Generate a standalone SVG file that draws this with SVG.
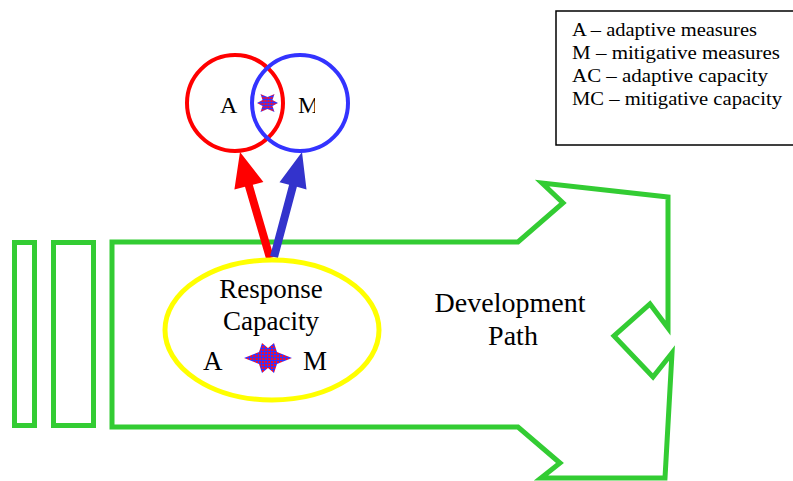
<svg xmlns="http://www.w3.org/2000/svg" width="793" height="481" viewBox="0 0 793 481">
<style>
.g{fill:none;stroke:#33cc33;stroke-width:5;stroke-linejoin:miter}
.t{font-family:"Liberation Serif","Times New Roman",serif;fill:#000}
.lg{font-family:"Liberation Serif","Times New Roman",serif;font-size:18px;fill:#000}
.star{fill:url(#chk)}
</style>
<defs>
<pattern id="chk" width="3" height="3" patternUnits="userSpaceOnUse">
<rect width="3" height="3" fill="#ee1133"/>
<rect x="2" width="1" height="3" fill="#3333ff"/>
<rect y="2" width="3" height="1" fill="#3333ff"/>
</pattern>
<clipPath id="mclip"><rect x="0" y="0" width="315" height="481"/></clipPath>
</defs>
<rect width="793" height="481" fill="#fff"/>

<g id="legend">
<rect x="556" y="11" width="260" height="134" fill="none" stroke="#000" stroke-width="1.5"/>
<text class="lg" x="572" y="36" textLength="185" lengthAdjust="spacingAndGlyphs">A – adaptive measures</text>
<text class="lg" x="572" y="59" textLength="208" lengthAdjust="spacingAndGlyphs">M – mitigative measures</text>
<text class="lg" x="572" y="82" textLength="196" lengthAdjust="spacingAndGlyphs">AC – adaptive capacity</text>
<text class="lg" x="572" y="105" textLength="210" lengthAdjust="spacingAndGlyphs">MC – mitigative capacity</text>
</g>

<g id="bar1"><rect class="g" x="14.5" y="242.5" width="20" height="183"/></g>
<g id="bar2"><rect class="g" x="53.5" y="242.5" width="40" height="183"/></g>

<g id="development-path">
<path class="g" d="M112,242 L518,242 L563,203 L542,183 L668,197 L668,328 L650,304 L614,336 L653,377 L672,353 L665,478 L541,478 L560,463 L518,427 L112,427 Z"/>
<text class="t" font-size="28" x="510" y="312" text-anchor="middle">Development</text>
<text class="t" font-size="28" x="513" y="345" text-anchor="middle">Path</text>
</g>

<g id="connectors">
<polygon fill="#ff0000" points="266.1,259 245,186.8 234.4,189.6 240,152 263.4,182 252.8,184.8 273.9,257"/>
<polygon fill="#3333cc" points="270.1,256 289.1,184.8 279.5,182.2 302,152 306.5,189.4 296.9,186.8 277.9,258"/>
</g>

<g id="response-capacity">
<ellipse cx="272" cy="330" rx="107" ry="70" fill="none" stroke="#ffff00" stroke-width="5"/>
<text class="t" font-size="27" x="271" y="298" text-anchor="middle">Response</text>
<text class="t" font-size="27" x="271" y="330" text-anchor="middle">Capacity</text>
<text class="t" font-size="27" x="203" y="370">A</text>
<text class="t" font-size="27" x="303" y="370">M</text>
<polygon class="star" transform="translate(268,358)" points="24,0 9,-6 6,-15 0,-10 -6,-15 -9,-6 -24,0 -9,6 -6,15 0,10 6,15 9,6"/>
</g>

<g id="measures">
<circle cx="235" cy="103" r="48" fill="none" stroke="#ff0000" stroke-width="4"/>
<circle cx="300" cy="103" r="48" fill="none" stroke="#3333ff" stroke-width="4"/>
<text class="t" font-size="24" x="220" y="113">A</text>
<text class="t" font-size="24" x="298" y="113" clip-path="url(#mclip)">M</text>
<polygon class="star" transform="translate(267.5,103)" points="10.5,0 5,-3 7,-9 0,-6 -7,-9 -5,-3 -10.5,0 -5,3 -7,9 0,6 7,9 5,3"/>
</g>
</svg>
